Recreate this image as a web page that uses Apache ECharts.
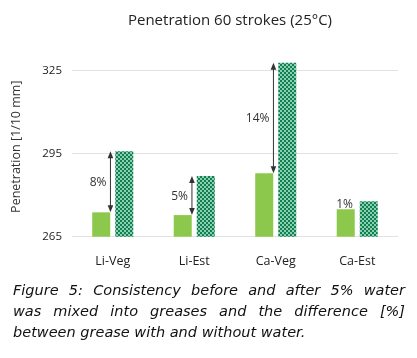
<!DOCTYPE html>
<html><head><meta charset="utf-8">
<script src="https://cdn.jsdelivr.net/npm/echarts@6/dist/echarts.min.js"></script>
<style>html,body{margin:0;padding:0;background:#fff;}#c{width:417px;height:358px;}</style>
</head><body><div id="c"></div>
<script>
var categories = ['Li-Veg', 'Li-Est', 'Ca-Veg', 'Ca-Est'];
var withoutWater = [273.8, 272.8, 287.9, 274.9];
var withWater = [295.9, 286.9, 327.8, 277.8];
var diffLabels = ['8%', '5%', '14%', '1%'];
var showArrow = [true, true, true, false];
var yTicks = [265, 295, 325];
var title = 'Penetration 60 strokes (25°C)';
var yName = 'Penetration [1/10 mm]';
var captionLines = [
  'Figure 5: Consistency before and after 5% water',
  'was mixed into greases and the difference [%]',
  'between grease with and without water.'
];

var cv = document.createElement('canvas');
cv.width = 4; cv.height = 4;
var cx = cv.getContext('2d');
cx.fillStyle = '#86d2ad'; cx.fillRect(0,0,4,4);
cx.fillStyle = '#157c55'; cx.fillRect(0,0,2,2); cx.fillRect(2,2,2,2);

var arrowData = categories.map(function(c, i){ return [i, withoutWater[i], withWater[i]]; });

// caption: justify the first lines (word positions from canvas text measurement)
var capFont = 'italic 14.5px "DejaVu Sans"';
var mc = document.createElement('canvas').getContext('2d');
mc.font = capFont;
var capLeft = 13, capWidth = 392;
var capGraphics = [];
captionLines.forEach(function(line, k){
  var top = 284 + k * 20.7;
  if (k === captionLines.length - 1) {
    capGraphics.push({type:'text', left: capLeft, top: top, style:{text: line, font: capFont, fill:'#111'}});
    return;
  }
  var words = line.split(' ');
  var ww = words.map(function(w){ return mc.measureText(w).width; });
  var tot = ww.reduce(function(a,b){return a+b;}, 0);
  var gap = (capWidth - tot) / (words.length - 1);
  var xx = capLeft;
  words.forEach(function(w, j){
    capGraphics.push({type:'text', x: xx, y: top, style:{text: w, font: capFont, fill:'#111', verticalAlign:'top'}});
    xx += ww[j] + gap;
  });
});

var chart = echarts.init(document.getElementById('c'), null, {renderer:'canvas'});
chart.setOption({
  animation: false,
  title: {text: title, left: 225, top: 8, textAlign: 'center',
    textStyle: {fontFamily: 'Open Sans', fontSize: 15, fontWeight: 'normal', color: '#222'}},
  grid: {left: 72, right: 19, top: 56.7, bottom: 121.3},
  xAxis: {type: 'category', data: categories,
    axisLine: {show: false}, axisTick: {show: false},
    axisLabel: {margin: 18, fontFamily: 'Open Sans', fontSize: 12.5, color: '#222'}},
  yAxis: {type: 'value', min: 265, max: 330,
    name: yName, nameLocation: 'middle', nameGap: 49,
    nameTextStyle: {fontFamily: 'Open Sans', fontSize: 12.5, color: '#333'},
    axisLine: {show: false},
    axisTick: {show: false, customValues: yTicks},
    axisLabel: {customValues: yTicks, margin: 10, fontFamily: 'Open Sans', fontSize: 11.5, color: '#222'},
    splitLine: {show: true, lineStyle: {color: '#e2e2e2', width: 1}}},
  series: [
    {type: 'bar', data: withoutWater, barWidth: 18, barGap: '28%',
      itemStyle: {color: '#8cc84b'}},
    {type: 'bar', data: withWater, barWidth: 18, barGap: '28%',
      itemStyle: {color: {image: cv, repeat: 'repeat'}}},
    {type: 'custom', data: arrowData, z: 10,
      renderItem: function(params, api){
        var i = api.value(0);
        var p1 = api.coord([i, api.value(1)]);
        var p2 = api.coord([i, api.value(2)]);
        var x = p1[0] - 2.3;
        var idx = params.dataIndex;
        var children = [];
        var col = '#333';
        if (showArrow[idx]) {
          var yl = p1[1], yh = p2[1];
          children.push({type:'line', shape:{x1:x, y1:yl-4, x2:x, y2:yh+4}, style:{stroke:col, lineWidth:1}});
          children.push({type:'polygon', shape:{points:[[x,yh],[x-2.8,yh+7],[x+2.8,yh+7]]}, style:{fill:col}});
          children.push({type:'polygon', shape:{points:[[x,yl],[x-2.8,yl-7],[x+2.8,yl-7]]}, style:{fill:col}});
          children.push({type:'text', style:{text: diffLabels[idx], x: x-4, y: (yl+yh)/2+1, align:'right', verticalAlign:'middle',
            font:'12px "Open Sans"', fill:'#333'}});
        } else {
          children.push({type:'text', style:{text: diffLabels[idx], x: x-2, y: p1[1]+1, align:'right', verticalAlign:'bottom',
            font:'12px "Open Sans"', fill:'#333'}});
        }
        return {type:'group', children: children};
      }}
  ],
  graphic: capGraphics
});
</script></body></html>
